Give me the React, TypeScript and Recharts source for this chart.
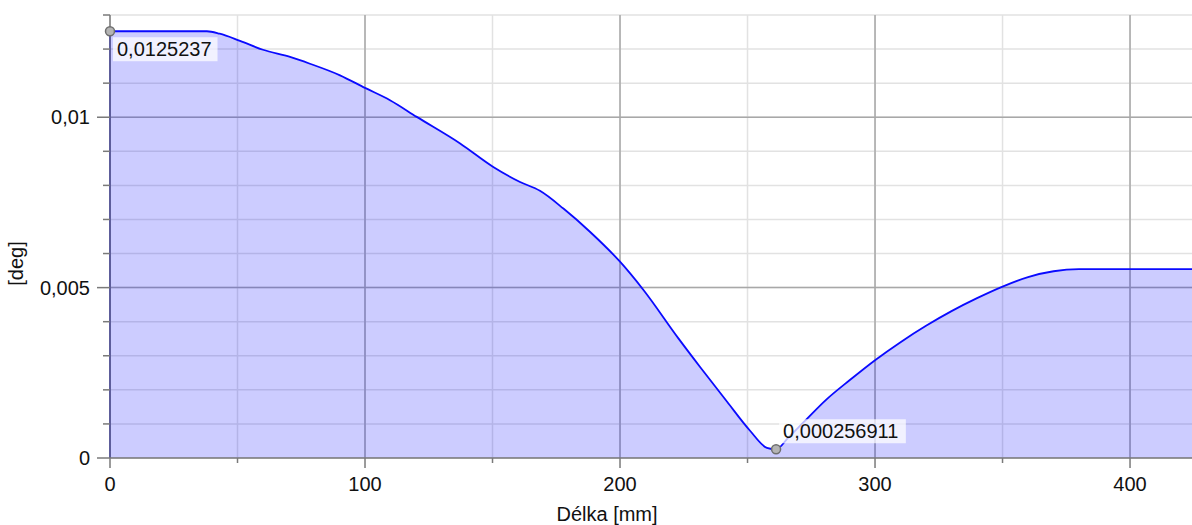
import React from 'react';
import {
  AreaChart,
  Area,
  XAxis,
  YAxis,
  CartesianGrid,
  ReferenceDot,
  ReferenceLine,
  Label,
} from 'recharts';

// ---- Data ----
const lengthMm = [
  0, 38, 43, 51, 60, 70.6, 78.4, 90.2, 100, 109.8, 120.3, 137.3, 150.3, 160.8,
  168.6, 177.8, 188.2, 200, 209.2, 222.9, 231.4, 242, 251, 257.6, 261.2, 266, 272,
  281, 290, 300, 310, 320, 330, 340, 350, 360, 370, 380, 424.3,
];
const angleDeg = [
  0.0125237, 0.0125237, 0.01245, 0.01224, 0.01198, 0.01177, 0.01157, 0.01123,
  0.01086, 0.0105, 0.01001, 0.00923, 0.00854, 0.0081, 0.00784, 0.00732, 0.00664,
  0.00576, 0.00493, 0.00351, 0.00267, 0.00165, 0.0008, 0.0003, 0.000256911,
  0.0006, 0.00105, 0.00172, 0.00228, 0.00287, 0.0034, 0.00388, 0.00431, 0.00469,
  0.00503, 0.00531, 0.00548, 0.00554, 0.00554,
];

const annotationX = [0, 261.2];
const annotationY = [0.0125237, 0.000256911];
const annotationText = ['0,0125237', '0,000256911'];

const xTicks = [0, 50, 100, 150, 200, 250, 300, 350, 400];
const xMajorLabels: Record<string, string> = { '0': '0', '100': '100', '200': '200', '300': '300', '400': '400' };
const yTicks = [0, 0.001, 0.002, 0.003, 0.004, 0.005, 0.006, 0.007, 0.008, 0.009, 0.01, 0.011, 0.012, 0.013];
const yMajorLabels: Record<string, string> = { '0': '0', '0.005': '0,005', '0.01': '0,01' };
const xMajorGrid = [100, 200, 300, 400];
const yMajorGrid = [0.005, 0.01];

const xTitle = 'Délka [mm]';
const yTitle = '[deg]';

const data = lengthMm.map((x, i) => ({ x, y: angleDeg[i] }));

// ---- Styles ----
const FONT = '"Liberation Sans", Arial, sans-serif';
const FS = 20;
const TEXT_COLOR = '#111';
const AXIS_COLOR = '#7a7a7a';

const XTick = (props: any) => {
  const { x, y, payload } = props;
  const key = String(payload.value);
  const label = xMajorLabels[key];
  const major = label !== undefined;
  return (
    <g>
      <line x1={x} x2={x} y1={y} y2={y + (major ? 10 : 5)} stroke={AXIS_COLOR} strokeWidth={1.5} />
      {major && (
        <text x={x} y={y + 33} textAnchor="middle" fontFamily={FONT} fontSize={FS} fill={TEXT_COLOR}>
          {label}
        </text>
      )}
    </g>
  );
};

const YTick = (props: any) => {
  const { x, y, payload } = props;
  const key = String(Number(payload.value.toFixed(4)));
  const label = yMajorLabels[key];
  const major = label !== undefined;
  return (
    <g>
      <line x1={x - (major ? 13 : 7)} x2={x} y1={y} y2={y} stroke={AXIS_COLOR} strokeWidth={1.5} />
      {major && (
        <text x={x - 20} y={y + 7} textAnchor="end" fontFamily={FONT} fontSize={FS} fill={TEXT_COLOR}>
          {label}
        </text>
      )}
    </g>
  );
};

const textWidth = (s: string) =>
  s.split('').reduce((w, c) => w + (c === ',' || c === '.' ? 0.278 : 0.556) * FS, 0);

const makeMarker = (idx: number) => (props: any) => {
  const { cx, cy } = props;
  const txt = annotationText[idx];
  const w = textWidth(txt) + 10;
  const below = idx === 0;
  const boxX = cx + 3;
  const boxY = below ? cy + 6 : cy - 30;
  return (
    <g>
      <rect x={boxX} y={boxY} width={w} height={24} fill="#ffffff" fillOpacity={0.72} />
      <text x={boxX + 4} y={boxY + 19} fontFamily={FONT} fontSize={FS} fill={TEXT_COLOR}>
        {txt}
      </text>
      <circle cx={cx} cy={cy} r={4.5} fill="#b4b4b4" stroke="#6e6e6e" strokeWidth={1.5} />
    </g>
  );
};

const XTitle = (props: any) => {
  const vb = props.viewBox || { x: 110, y: 458, width: 1082, height: 67 };
  return (
    <text x={vb.x + 497} y={vb.y + 63} textAnchor="middle" fontFamily={FONT} fontSize={FS} fill={TEXT_COLOR}>
      {xTitle}
    </text>
  );
};

const YTitle = (props: any) => {
  const vb = props.viewBox || { x: 0, y: 15, width: 110, height: 443 };
  const cx = vb.x + 16;
  const cy = vb.y + vb.height / 2 + 27;
  return (
    <text
      x={cx}
      y={cy}
      textAnchor="middle"
      dominantBaseline="central"
      transform={`rotate(-90, ${cx}, ${cy})`}
      fontFamily={FONT}
      fontSize={FS}
      fill={TEXT_COLOR}
    >
      {yTitle}
    </text>
  );
};

export default function App() {
  return (
    <div style={{ position: 'absolute', left: 0, top: 0, width: 1192, height: 525, background: '#fff' }}>
      <AreaChart
        width={1192}
        height={525}
        data={data}
        margin={{ top: 15, right: 0, bottom: 0, left: 0 }}
      >
        <CartesianGrid
          stroke="#e2e2e2"
          strokeWidth={1.5}
          horizontalValues={yTicks}
          verticalValues={xTicks}
        />
        <CartesianGrid
          stroke="#a8a8a8"
          strokeWidth={1.5}
          horizontalValues={yMajorGrid}
          verticalValues={xMajorGrid}
        />
        <XAxis
          dataKey="x"
          type="number"
          domain={[0, 424.3]}
          allowDataOverflow
          ticks={xTicks}
          interval={0}
          tick={<XTick />}
          tickLine={false}
          tickSize={0}
          tickMargin={0}
          height={67}
          axisLine={{ stroke: AXIS_COLOR, strokeWidth: 1.5 }}
        >
          <Label content={<XTitle />} />
        </XAxis>
        <YAxis
          type="number"
          domain={[0, 0.013]}
          allowDataOverflow
          ticks={yTicks}
          interval={0}
          tick={<YTick />}
          tickLine={false}
          tickSize={0}
          tickMargin={0}
          width={110}
          axisLine={{ stroke: AXIS_COLOR, strokeWidth: 1.5 }}
        >
          <Label content={<YTitle />} />
        </YAxis>
        <Area
          type="monotone"
          dataKey="y"
          stroke="#0a0aff"
          strokeWidth={1.8}
          fill="#0000ff"
          fillOpacity={0.2}
          isAnimationActive={false}
          dot={false}
          activeDot={false}
        />
        <ReferenceLine
          segment={[
            { x: annotationX[0], y: 0 },
            { x: annotationX[0], y: annotationY[0] },
          ]}
          stroke="#0a0aff"
          strokeWidth={2}
          ifOverflow="visible"
        />
        {annotationX.map((ax, i) => (
          <ReferenceDot
            key={i}
            x={ax}
            y={annotationY[i]}
            r={4.5}
            ifOverflow="visible"
            shape={makeMarker(i)}
          />
        ))}
      </AreaChart>
    </div>
  );
}
